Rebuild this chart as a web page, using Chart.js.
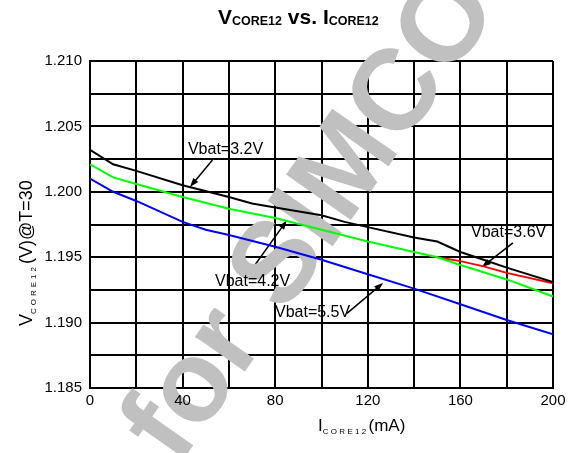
<!DOCTYPE html>
<html>
<head>
<meta charset="utf-8">
<script src="https://cdn.jsdelivr.net/npm/chart.js@4.4.1/dist/chart.umd.min.js"></script>
<style>
  html, body { margin: 0; padding: 0; background: #fff; }
  #wrap { width: 576px; height: 453px; position: relative; }
</style>
</head>
<body>
<div id="wrap"><canvas id="vcoreChart"></canvas></div>
<script>
// curves, x = I_CORE12 (mA), y = V_CORE12 (V)
const x32 = [0, 10, 20, 40, 60, 70, 80, 100, 110, 120, 140, 150, 160, 170, 180, 200];
const v32 = [1.2032, 1.2021, 1.2016, 1.2005, 1.1996, 1.1991, 1.1988, 1.1982, 1.1977, 1.1973, 1.1965, 1.1962, 1.1954, 1.1948, 1.1942, 1.1931];
const x36 = [150, 160, 170, 180, 200];
const v36 = [1.1950, 1.1947, 1.1943, 1.1938, 1.1930];
const x42 = [0, 10, 20, 40, 60, 80, 100, 120, 140, 150, 160, 180, 200];
const v42 = [1.2021, 1.2011, 1.2006, 1.1996, 1.1987, 1.1980, 1.1971, 1.1962, 1.1954, 1.1950, 1.1944, 1.1933, 1.1920];
const x55 = [0, 10, 20, 40, 50, 60, 80, 100, 120, 140, 160, 180, 200];
const v55 = [1.2010, 1.2000, 1.1993, 1.1977, 1.1971, 1.1967, 1.1958, 1.1948, 1.1937, 1.1926, 1.1914, 1.1902, 1.1891];

const xLabelEvery = 40;      // grid every 20, label every 40
const yLabelEvery = 0.005;   // grid every 0.0025, label every 0.005

// callouts: label text, text anchor (left/middle), arrow tail, arrow tip
const noteText = ['Vbat=3.2V', 'Vbat=3.6V', 'Vbat=4.2V', 'Vbat=5.5V'];
const noteAt   = [[42.3, 1.2032], [164.6, 1.19685], [54, 1.1931], [79.9, 1.19073]];
const noteFrom = [[52.9, 1.20243], [182.7, 1.19609], [70, 1.1941], [111, 1.1907]];
const noteTo   = [[43.2, 1.20037], [169.3, 1.19425], [85, 1.1978], [126.6, 1.19303]];

const FONT = '"Liberation Sans", Arial, sans-serif';

function pts(xs, ys) {
    return xs.map((x, i) => ({ x: x, y: ys[i] }));
}

// draw text pieces one after another (for subscripts), from x on baseline y
function subText(ctx, parts, x, y) {
    parts.forEach(p => {
        ctx.font = p.font;
        if (p.spacing) {
            for (const ch of p.t) {
                ctx.fillText(ch, x, y + (p.dy || 0));
                x += ctx.measureText(ch).width + p.spacing;
            }
        } else {
            ctx.fillText(p.t, x, y + (p.dy || 0));
            x += ctx.measureText(p.t).width;
        }
    });
}

function arrow(ctx, x1, y1, x2, y2) {
    const a = Math.atan2(y2 - y1, x2 - x1);
    const len = 9, half = 3.2;
    ctx.beginPath();
    ctx.moveTo(x1, y1);
    ctx.lineTo(x2 - Math.cos(a) * len * 0.8, y2 - Math.sin(a) * len * 0.8);
    ctx.stroke();
    ctx.beginPath();
    ctx.moveTo(x2, y2);
    ctx.lineTo(x2 - Math.cos(a) * len - Math.sin(a) * half, y2 - Math.sin(a) * len + Math.cos(a) * half);
    ctx.lineTo(x2 - Math.cos(a) * len + Math.sin(a) * half, y2 - Math.sin(a) * len - Math.cos(a) * half);
    ctx.closePath();
    ctx.fill();
}

const decorations = {
    id: 'decorations',
    beforeDatasetsDraw(chart) {
        const ctx = chart.ctx;
        const xs = chart.scales.x, ys = chart.scales.y;
        ctx.save();
        ctx.strokeStyle = '#000';
        ctx.fillStyle = '#000';
        ctx.lineWidth = 1.5;
        noteFrom.forEach((f, i) => {
            arrow(ctx, xs.getPixelForValue(f[0]), ys.getPixelForValue(f[1]),
                  xs.getPixelForValue(noteTo[i][0]), ys.getPixelForValue(noteTo[i][1]));
        });
        // watermark
        ctx.translate(178, 467);
        ctx.rotate(-55 * Math.PI / 180);
        ctx.fillStyle = '#c0c0c0';
        ctx.font = 'bold 115px ' + FONT;
        ctx.textBaseline = 'alphabetic';
        ctx.fillText('for SIMCOM', 0, 0);
        ctx.restore();
    },
    afterDatasetsDraw(chart) {
        const ctx = chart.ctx;
        const xs = chart.scales.x, ys = chart.scales.y;
        ctx.save();
        ctx.fillStyle = '#000';
        ctx.font = '16px ' + FONT;
        ctx.textBaseline = 'middle';
        ctx.textAlign = 'left';
        noteText.forEach((t, i) => {
            ctx.fillText(t, xs.getPixelForValue(noteAt[i][0]), ys.getPixelForValue(noteAt[i][1]));
        });
        ctx.restore();
    },
    afterDraw(chart) {
        const ctx = chart.ctx;
        ctx.save();
        ctx.fillStyle = '#000';
        ctx.textBaseline = 'alphabetic';
        ctx.textAlign = 'left';
        // title
        subText(ctx, [
            { t: 'V', font: 'bold 21px ' + FONT },
            { t: 'CORE12', font: 'bold 12.5px ' + FONT, dy: 1 },
            { t: ' vs. I', font: 'bold 21px ' + FONT },
            { t: 'CORE12', font: 'bold 12.5px ' + FONT, dy: 1 }
        ], 218, 24);
        // x title
        subText(ctx, [
            { t: 'I', font: '17px ' + FONT },
            { t: 'CORE12', font: '8px ' + FONT, dy: 3, spacing: 2.3 },
            { t: '(mA)', font: '17px ' + FONT }
        ], 318, 431);
        // y title
        ctx.translate(32, 326);
        ctx.rotate(-Math.PI / 2);
        subText(ctx, [
            { t: 'V', font: '18px ' + FONT },
            { t: 'CORE12', font: '8px ' + FONT, dy: 4, spacing: 3 },
            { t: '(V)@T=30', font: '18px ' + FONT }
        ], 0, 0);
        ctx.restore();
    }
};

function series(label, xs, ys, color, order) {
    return {
        label: label,
        data: pts(xs, ys),
        borderColor: color,
        backgroundColor: color,
        borderWidth: 2,
        pointRadius: 0,
        tension: 0,
        fill: false,
        order: order
    };
}

document.addEventListener('DOMContentLoaded', function () {
    const ctx = document.getElementById('vcoreChart').getContext('2d');
    new Chart(ctx, {
        type: 'line',
        data: {
            datasets: [
                series('Vbat=3.2V', x32, v32, '#000000', 1),
                series('Vbat=4.2V', x42, v42, '#00ff00', 2),
                series('Vbat=3.6V', x36, v36, '#ff0000', 3),
                series('Vbat=5.5V', x55, v55, '#0000ff', 4)
            ]
        },
        options: {
            responsive: true,
            maintainAspectRatio: false,
            animation: false,
            layout: { padding: { top: 61, right: 23, bottom: 0, left: 0 } },
            plugins: {
                legend: { display: false },
                tooltip: { enabled: false },
                title: { display: false }
            },
            scales: {
                x: {
                    type: 'linear',
                    min: 0,
                    max: 200,
                    afterFit(s) { s.height = 65; },
                    grid: { color: '#000', lineWidth: 2, drawTicks: false, z: -1 },
                    border: { color: '#000', width: 2 },
                    ticks: {
                        stepSize: 20,
                        autoSkip: false,
                        maxRotation: 0,
                        maxTicksLimit: 30,
                        padding: 4,
                        color: '#000',
                        z: 1,
                        font: { size: 15, family: FONT },
                        callback: v => (Math.round(v) % xLabelEvery === 0 ? String(Math.round(v)) : '')
                    }
                },
                y: {
                    min: 1.185,
                    max: 1.210,
                    afterFit(s) { s.width = 90; },
                    grid: { color: '#000', lineWidth: 2, drawTicks: false, z: -1 },
                    border: { color: '#000', width: 2 },
                    ticks: {
                        stepSize: 0.0025,
                        autoSkip: false,
                        maxTicksLimit: 30,
                        padding: 8,
                        color: '#000',
                        z: 1,
                        font: { size: 15, family: FONT },
                        callback: v => (Math.round(v * 10000) % Math.round(yLabelEvery * 10000) === 0 ? v.toFixed(3) : '')
                    }
                }
            }
        },
        plugins: [decorations]
    });
});
</script>
</body>
</html>
